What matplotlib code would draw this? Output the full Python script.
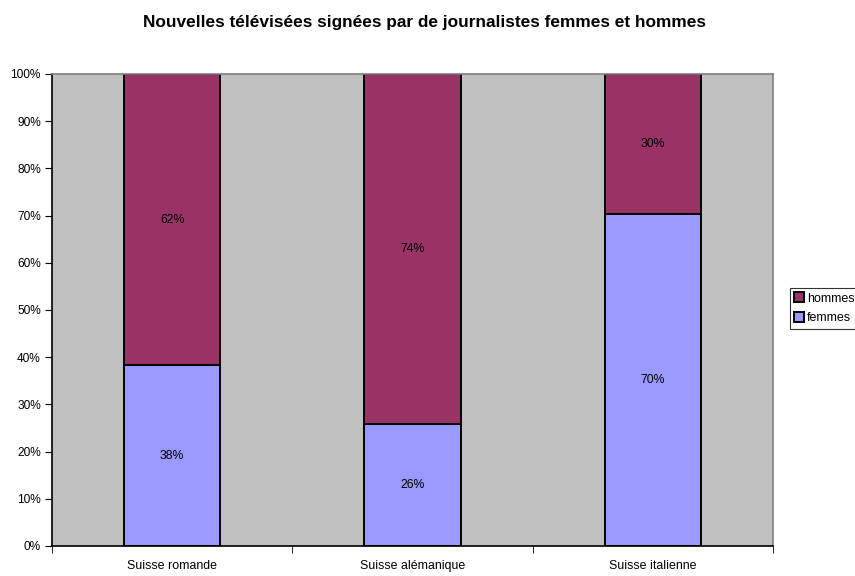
import matplotlib
matplotlib.use('Agg')
import matplotlib.pyplot as plt
import matplotlib.ticker as ticker
import numpy as np

plt.rcParams['font.family'] = ['Liberation Sans', 'DejaVu Sans']

regions = ['Suisse romande', 'Suisse alémanique', 'Suisse italienne']
femmes = [38.3, 25.8, 70.3]
hommes = [61.7, 74.2, 29.7]

col_f = '#9999FF'
col_h = '#993366'

fig = plt.figure(figsize=(8.55, 5.76), dpi=100)
ax = fig.add_axes([52/855, 1-546/576, (773-52)/855, (546-74)/576])
ax.set_facecolor('#C0C0C0')

x = np.arange(len(regions))
b1 = ax.bar(x, femmes, width=0.4, color=col_f, edgecolor='black', linewidth=1.4, label='femmes')
b2 = ax.bar(x, hommes, width=0.4, bottom=femmes, color=col_h, edgecolor='black', linewidth=1.4, label='hommes')

for i in range(len(regions)):
    ax.text(x[i], femmes[i]/2, '%.0f%%' % femmes[i], ha='center', va='center', fontsize=8.8)
    ax.text(x[i], femmes[i] + hommes[i]/2, '%.0f%%' % hommes[i], ha='center', va='center', fontsize=8.8)

ax.set_xlim(-0.5, 2.5)
ax.set_ylim(0, 100)
ax.yaxis.set_major_locator(ticker.MultipleLocator(10))
ax.yaxis.set_major_formatter(ticker.FuncFormatter(lambda v, p: '%d%%' % v))
ax.set_xticks(x)
ax.set_xticklabels(regions)
ax.set_xticks([-0.5, 0.5, 1.5, 2.5], minor=True)
ax.tick_params(axis='x', which='major', length=0, labelsize=8.9, pad=10)
ax.tick_params(axis='x', which='minor', length=5, direction='out', color='black')
ax.tick_params(axis='y', length=5, direction='out', labelsize=8.6, pad=3)

ax.spines['left'].set_color('black')
ax.spines['bottom'].set_color('black')
ax.spines['top'].set_color('#808080')
ax.spines['right'].set_color('#808080')
for s in ax.spines.values():
    s.set_linewidth(1.2)

fig.text(424/855, 1-22/576, 'Nouvelles télévisées signées par de journalistes femmes et hommes',
         ha='center', va='center', fontsize=12.4, fontweight='bold')

leg = fig.legend(handles=[b2, b1], labels=['hommes', 'femmes'], loc='upper left',
                 bbox_to_anchor=(790/855, 1-288/576), fontsize=9, frameon=True,
                 fancybox=False, edgecolor='black', handlelength=0.8, handleheight=0.8,
                 handletextpad=0.2, borderpad=0.35, labelspacing=0.6, borderaxespad=0)
leg.get_frame().set_linewidth(0.8)

fig.savefig('out.png', dpi=100)
